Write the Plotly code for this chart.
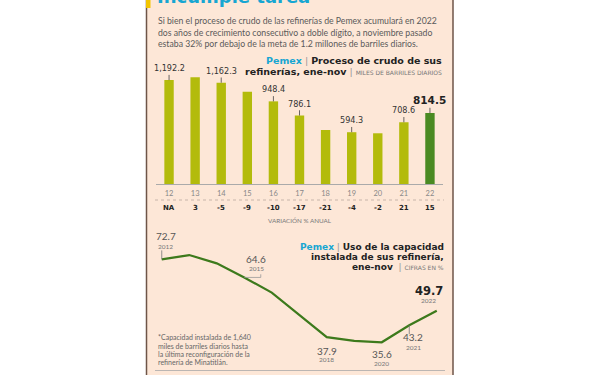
import plotly.graph_objects as go

# ---------------- data ----------------
years_short = ["12", "13", "14", "15", "16", "17", "18", "19", "20", "21", "22"]
crude_proc = [1192.2, 1224.0, 1162.3, 1058.0, 948.4, 786.1, 620.0, 594.3, 582.0, 708.6, 814.5]
crude_labels = ["1,192.2", "", "1,162.3", "", "948.4", "786.1", "", "594.3", "", "708.6", "814.5"]
variation = ["NA", "3", "-5", "-9", "-10", "-17", "-21", "-4", "-2", "21", "15"]

years_full = [2012, 2013, 2014, 2015, 2016, 2017, 2018, 2019, 2020, 2021, 2022]
capacity_use = [72.7, 74.6, 70.9, 64.6, 57.8, 47.9, 37.9, 36.2, 35.6, 43.2, 49.7]
capacity_labels = ["72.7", "", "", "64.6", "", "", "37.9", "", "35.6", "43.2", "49.7"]

W, H = 600, 375
def X(px): return px / W
def Y(py): return 1 - py / H

BG = "#fde7d7"
CYAN = "#17a6d2"
OLIVE = "#b3bb0b"
DARKGREEN = "#4a8a22"
LINEGREEN = "#3d7a1c"
FONT = "Lato, 'Open Sans', sans-serif"
BOLD = "'DejaVu Sans', sans-serif"
NARROW = "'Liberation Sans Narrow', 'DejaVu Sans Condensed', sans-serif"

bar_pos = list(range(len(years_short)))

fig = go.Figure()

bar_colors = [OLIVE] * (len(years_short) - 1) + [DARKGREEN]
fig.add_trace(go.Bar(x=bar_pos, y=crude_proc, marker=dict(color=bar_colors, line=dict(width=0)),
                     width=0.36, xaxis="x", yaxis="y", hoverinfo="skip"))
fig.add_trace(go.Scatter(x=years_full, y=capacity_use, mode="lines",
                         line=dict(color=LINEGREEN, width=2.2), xaxis="x2", yaxis="y2", hoverinfo="skip"))

shapes = []
annotations = []

# panel background
shapes.append(dict(type="rect", xref="paper", yref="paper", x0=X(146), x1=X(453), y0=0, y1=1,
                   fillcolor=BG, line=dict(width=0), layer="below"))
shapes.append(dict(type="line", xref="paper", yref="paper", x0=X(146.5), x1=X(146.5), y0=0, y1=1,
                   line=dict(color="#6e5548", width=1.5)))
shapes.append(dict(type="line", xref="paper", yref="paper", x0=X(453), x1=X(453), y0=0, y1=1,
                   line=dict(color="#6e5548", width=1.5)))
shapes.append(dict(type="rect", xref="paper", yref="paper", x0=X(146), x1=X(150.5), y0=Y(8), y1=1,
                   fillcolor="#f2c500", line=dict(width=0)))

# header
annotations.append(dict(xref="paper", yref="paper", x=X(155), y=Y(9), xanchor="left", yanchor="bottom",
                        text="<b>Incumple tarea</b>", showarrow=False,
                        font=dict(family=BOLD, size=18, color=CYAN)))
para = ["Si bien el proceso de crudo de las refinerías de Pemex acumulará en 2022",
        "dos años de crecimiento consecutivo a doble dígito, a noviembre pasado",
        "estaba 32% por debajo de la meta de 1.2 millones de barriles diarios."]
for i, t in enumerate(para):
    annotations.append(dict(xref="paper", yref="paper", x=X(156), y=Y(20.5 + 11.7 * i), xanchor="left",
                            yanchor="middle", text=t, showarrow=False,
                            font=dict(family=FONT, size=8.7, color="#5a5a5a")))

# bar chart title
annotations.append(dict(xref="paper", yref="paper", x=X(444), y=Y(61), xanchor="right", yanchor="middle",
                        showarrow=False,
                        text=f"<b><span style='color:{CYAN}'>Pemex</span></b><span style='color:#999'> | </span><b>Proceso de crudo de sus</b>",
                        font=dict(family=BOLD, size=9.5, color="#222")))
annotations.append(dict(xref="paper", yref="paper", x=X(444), y=Y(71), xanchor="right", yanchor="middle",
                        showarrow=False,
                        text="<b>refinerías, ene-nov</b><span style='color:#999'> | </span><span style='font-size:6px;color:#777'>MILES DE BARRILES DIARIOS</span>",
                        font=dict(family=BOLD, size=9.5, color="#222")))

# bar value labels
for i, (v, lab) in enumerate(zip(crude_proc, crude_labels)):
    if not lab:
        continue
    last = i == len(crude_proc) - 1
    annotations.append(dict(xref="x", yref="y", x=bar_pos[i], y=v, yshift=5, yanchor="bottom",
                            showarrow=False, text=f"<b>{lab}</b>" if last else lab,
                            font=dict(family=NARROW if not last else BOLD, size=9 if not last else 10.5,
                                      color="#333" if not last else "#222")))
    shapes.append(dict(type="line", xref="x", yref="y", x0=bar_pos[i], x1=bar_pos[i], y0=v, y1=v + 60,
                       line=dict(color="#444", width=0.8)))

# variation row
shapes.append(dict(type="line", xref="paper", yref="paper", x0=X(155), x1=X(444), y0=Y(200), y1=Y(200),
                   line=dict(color="#b9aaa0", width=0.8, dash="dot")))
for i, t in enumerate(variation):
    annotations.append(dict(xref="x", yref="paper", x=bar_pos[i], y=Y(208), yanchor="middle", showarrow=False,
                            text=f"<b>{t}</b>", font=dict(family=BOLD, size=7, color="#222")))
annotations.append(dict(xref="paper", yref="paper", x=X(300), y=Y(220), yanchor="middle", showarrow=False,
                        text="VARIACIÓN % ANUAL", font=dict(family=FONT, size=6.3, color="#777")))

# line chart title
annotations.append(dict(xref="paper", yref="paper", x=X(446), y=Y(246.5), xanchor="right", yanchor="middle",
                        showarrow=False,
                        text=f"<b><span style='color:{CYAN}'>Pemex</span></b><span style='color:#999'> | </span><b>Uso de la capacidad</b>",
                        font=dict(family=BOLD, size=9, color="#222")))
annotations.append(dict(xref="paper", yref="paper", x=X(446), y=Y(256.5), xanchor="right", yanchor="middle",
                        showarrow=False, text="<b>instalada de sus refinería,</b>",
                        font=dict(family=BOLD, size=9, color="#222")))
annotations.append(dict(xref="paper", yref="paper", x=X(446), y=Y(266.5), xanchor="right", yanchor="middle",
                        showarrow=False,
                        text="<b>ene-nov</b><span style='color:#999'>  | </span><span style='font-size:6px;color:#777'>CIFRAS EN %</span>",
                        font=dict(family=BOLD, size=9, color="#222")))

# line labels: (value-shift, year-shift, xshift)
pos = {0: (23, 13, 4), 3: (18, 9, 12), 6: (-14, -22, 0), 8: (-12, -21, 0), 9: (-12, -22, 4), 10: (20, 10, -8)}
for i, (yr, v, lab) in enumerate(zip(years_full, capacity_use, capacity_labels)):
    if not lab:
        continue
    dy_v, dy_y, dx = pos[i]
    last = i == len(years_full) - 1
    annotations.append(dict(xref="x2", yref="y2", x=yr, y=v, yshift=dy_v, xshift=dx, yanchor="middle",
                            showarrow=False, text=f"<b>{lab}</b>" if last else lab,
                            font=dict(family=BOLD if last else FONT, size=11.5 if last else 10,
                                      color="#222" if last else "#555")))
    annotations.append(dict(xref="x2", yref="y2", x=yr, y=v, yshift=dy_y, xshift=dx, yanchor="middle",
                            showarrow=False, text=str(yr),
                            font=dict(family=FONT, size=6.5, color="#777")))

# little ticks for line labels
shapes.append(dict(type="line", xref="x2", yref="y2", x0=2012, x1=2012, y0=72.7, y1=72.7 + 4,
                   line=dict(color="#777", width=0.8)))
shapes.append(dict(type="path", xref="x2", yref="y2",
                   path="M 2015,64.6 L 2015.6,64.6 L 2015.6,66", line=dict(color="#999", width=0.8)))
shapes.append(dict(type="line", xref="x2", yref="y2", x0=2021, x1=2021, y0=43.2, y1=43.2 - 4,
                   line=dict(color="#777", width=0.8)))

# footnote
foot = ["*Capacidad instalada de 1,640", "miles de barriles diarios hasta",
        "la última reconfiguración de la", "refinería de Minatitlán."]
for i, t in enumerate(foot):
    annotations.append(dict(xref="paper", yref="paper", x=X(156), y=Y(337.5 + 8.2 * i), xanchor="left",
                            yanchor="middle", showarrow=False, text=t,
                            font=dict(family=FONT, size=7, color="#666")))
shapes.append(dict(type="line", xref="paper", yref="paper", x0=X(155), x1=X(445), y0=Y(370.5), y1=Y(370.5),
                   line=dict(color="#aaa", width=0.8)))

fig.update_layout(
    width=W, height=H, margin=dict(l=0, r=0, t=0, b=0),
    paper_bgcolor="white", plot_bgcolor="rgba(0,0,0,0)",
    showlegend=False,
    shapes=shapes, annotations=annotations,
    xaxis=dict(domain=[X(156), X(443)], range=[-0.5, 10.5], tickvals=bar_pos, ticktext=years_short,
               showgrid=False, zeroline=False, showline=True, linecolor="#aaa", linewidth=0.8,
               ticks="", tickfont=dict(family=FONT, size=7.5, color="#888"), ticklabelstandoff=2,
               fixedrange=True),
    yaxis=dict(domain=[Y(184), Y(62)], range=[0, 1400], visible=False, fixedrange=True),
    xaxis2=dict(domain=[X(148), X(450.5)], range=[2011.5, 2022.5], visible=False, anchor="y2"),
    yaxis2=dict(domain=[Y(354.8), Y(243)], range=[30, 80], visible=False, anchor="x2"),
)

fig.write_html("out.html", config={"displayModeBar": False},
               post_script="document.body.style.margin='0';")
